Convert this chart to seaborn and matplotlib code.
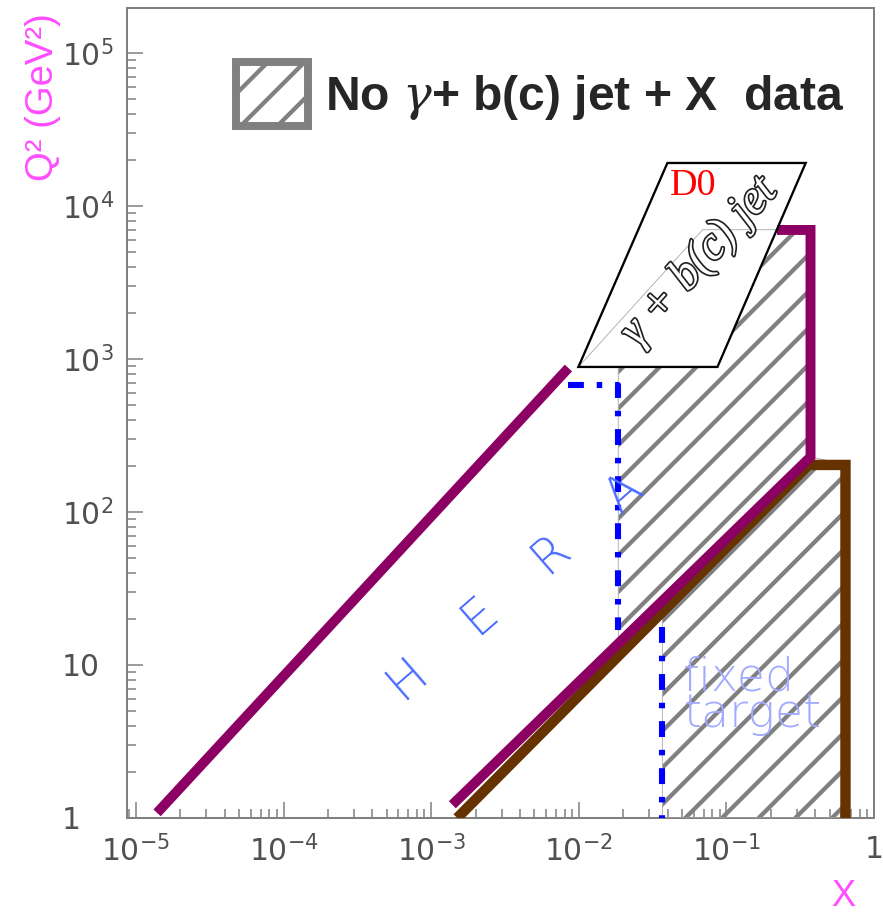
import numpy as np
import matplotlib
matplotlib.use("Agg")
import matplotlib.pyplot as plt
import seaborn as sns
from matplotlib.patches import Polygon, Patch
from matplotlib import patheffects as pe

# Kinematic reach in the (x, Q^2) plane, Q^2 in GeV^2
hera_low_x = [1.39e-5, 8.5e-3]
hera_low_q2 = [1.08, 873]
hera_high_x = [1.39e-3, 0.371, 0.371, 0.22]
hera_high_q2 = [1.22, 229, 6970, 6970]
fixed_x = [1.50e-3, 0.36, 0.64, 0.64]
fixed_q2 = [1.0, 203, 203, 1.0]

# dash-dotted cuts of the HERA and fixed-target regions
hera_cut_x = [8.4e-3, 0.0185, 0.0185]
hera_cut_q2 = [676, 676, 16.9]
fixed_cut_x = [0.0368, 0.0368]
fixed_cut_q2 = [17.7, 1.0]

# region with no gamma + b(c) jet + X measurement
nodata_x = [0.0185, 0.0185, 0.00993, 0.069, 0.371, 0.371, 0.67, 0.67, 0.0368, 0.0368]
nodata_q2 = [14, 887, 887, 7000, 7000, 229, 203, 1.0, 1.0, 20]

# D0 gamma + b(c) jet acceptance
d0_x = [0.00993, 0.0398, 0.344, 0.0869]
d0_q2 = [887, 19100, 19100, 887]

x_ticks = [1e-5, 1e-4, 1e-3, 1e-2, 1e-1, 1]
x_tick_labels = [r"$10^{-5}$", r"$10^{-4}$", r"$10^{-3}$", r"$10^{-2}$", r"$10^{-1}$", "1"]
y_ticks = [1, 10, 1e2, 1e3, 1e4, 1e5]
y_tick_labels = ["1", "10", r"$10^{2}$", r"$10^{3}$", r"$10^{4}$", r"$10^{5}$"]

PURPLE = "#8c0064"
BROWN = "#663300"
BLUE = "#0000ff"
MAGENTA = "#ff4dff"
GRAY = "#808080"

sns.set_theme(style="ticks")
plt.rcParams.update({
    "font.family": ["DejaVu Sans"],
    "mathtext.fontset": "custom",
    "mathtext.rm": "DejaVu Sans",
    "mathtext.it": "DejaVu Serif:italic",
    "mathtext.bf": "DejaVu Sans:bold",
    "hatch.linewidth": 2.8,
    "hatch.color": GRAY,
})

DPI = 110
fig = plt.figure(figsize=(883 / DPI, 912 / DPI), dpi=DPI)
ax = fig.add_axes([0.1438, 0.1031, 0.8461, 0.8882])
ax.set_xscale("log")
ax.set_yscale("log")
ax.set_xlim(8.69e-6, 1.0)
ax.set_ylim(1.0, 1.97e5)

# hatched no-data region
ax.add_patch(Polygon(np.column_stack([nodata_x, nodata_q2]), closed=True,
                     facecolor="none", edgecolor=GRAY, hatch="/", lw=0, zorder=1))

# D0 acceptance box (white fill first, outline later)
d0_poly = np.column_stack([d0_x, d0_q2])
ax.add_patch(Polygon(d0_poly, closed=True, facecolor="white", edgecolor="none", zorder=3))
ax.add_patch(Polygon(np.column_stack([nodata_x, nodata_q2]), closed=True,
                     facecolor="none", edgecolor="#b0b0b0", lw=0.6, zorder=3.5))

# dash-dotted cuts
for xs, qs in [(hera_cut_x, hera_cut_q2), (fixed_cut_x, fixed_cut_q2)]:
    sns.lineplot(x=xs, y=qs, sort=False, estimator=None, ax=ax, color=BLUE, zorder=3.7)
    cut = ax.lines[-1]
    cut.set_linewidth(4.0)
    cut.set_dashes([2.6, 2.1, 0.9, 2.1])
    cut.set_dash_capstyle("butt")

# kinematic limits
sns.lineplot(x=hera_low_x, y=hera_low_q2, sort=False, estimator=None, ax=ax,
             color=PURPLE, lw=6.5, solid_capstyle="butt", zorder=4)
sns.lineplot(x=fixed_x, y=fixed_q2, sort=False, estimator=None, ax=ax,
             color=BROWN, lw=6.8, solid_capstyle="butt", solid_joinstyle="miter", zorder=4)
sns.lineplot(x=hera_high_x, y=hera_high_q2, sort=False, estimator=None, ax=ax,
             color=PURPLE, lw=6.5, solid_capstyle="butt", solid_joinstyle="miter", zorder=4.1)

ax.add_patch(Polygon(d0_poly, closed=True, facecolor="none", edgecolor="black",
                     lw=1.5, zorder=5))

# region labels
ax.text(3.77e-3, 31.9, "H    E    R    A", color="#4a6bff", fontsize=32,
        fontweight="light", rotation=41, rotation_mode="anchor",
        ha="center", va="center", zorder=6)
ax.text(0.051, 11.6, "fixed\ntarget", color="#a3abff", fontsize=30,
        fontweight="light", linespacing=0.8, ha="left", va="top", zorder=6)
ax.text(0.0597, 11800, "D0", color="red", fontsize=25, family="Liberation Serif",
        ha="center", va="baseline", zorder=6)
ax.text(0.0656, 4300, "\u03b3 + b(c) jet", color="white", fontsize=31,
        family="Liberation Serif", style="italic", rotation=48,
        rotation_mode="anchor", ha="center", va="center", zorder=6,
        path_effects=[pe.Stroke(linewidth=2.2, foreground="#202020"), pe.Normal()])

# axes styling
ax.set_xticks(x_ticks, x_tick_labels)
ax.set_yticks(y_ticks, y_tick_labels)
ax.xaxis.set_minor_formatter(matplotlib.ticker.NullFormatter())
ax.yaxis.set_minor_formatter(matplotlib.ticker.NullFormatter())
ax.tick_params(which="both", direction="in", top=False, right=False,
               color=GRAY, width=1.0, labelcolor="#505050", labelsize=19.5)
ax.tick_params(which="major", length=10.5)
ax.tick_params(which="minor", length=5.9)
ax.tick_params(axis="x", which="major", pad=11)
ax.tick_params(axis="y", which="major", pad=42.5)
for lab in ax.get_yticklabels():
    lab.set_horizontalalignment("left")
for side in ["left", "right", "top", "bottom"]:
    ax.spines[side].set_color(GRAY)
    ax.spines[side].set_linewidth(1.3)
ax.grid(False)

ax.set_ylabel("Q\u00b2 (GeV\u00b2)", color=MAGENTA, fontsize=25,
              family="Liberation Sans", loc="top")
ax.yaxis.set_label_coords(-0.088, 0.994)
ax.set_xlabel("X", color=MAGENTA, fontsize=23.6, family="Liberation Sans", loc="right")
ax.xaxis.set_label_coords(0.9746, -0.075)

handle = Patch(facecolor="white", edgecolor=GRAY, hatch="/", linewidth=5.2)
ax.legend([handle], [r"No $\gamma$+ b(c) jet + X  data"], loc="upper left",
          bbox_to_anchor=(0.1459, 0.9333), frameon=False, borderpad=0,
          borderaxespad=0, handlelength=1.5, handleheight=1.67,
          handletextpad=0.35,
          prop=dict(family="Liberation Sans", weight="bold", size=31.4))

fig.savefig("out.png", dpi=DPI, facecolor="white")
